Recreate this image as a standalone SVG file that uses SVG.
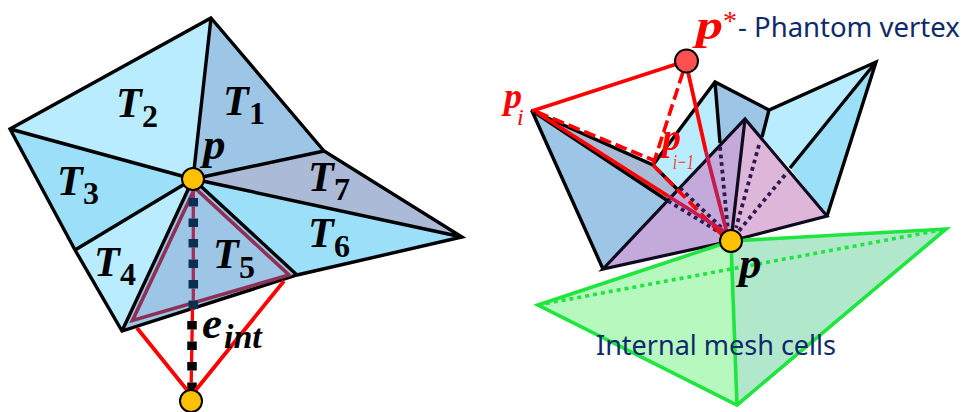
<svg xmlns="http://www.w3.org/2000/svg" width="968" height="412" viewBox="0 0 968 412">
<style>
.k{stroke:#000;stroke-width:3.4;stroke-linejoin:miter;fill:none}
.m{font-family:"Liberation Serif",serif;font-weight:bold;font-style:italic;font-size:45px;fill:#000}
.t{font-size:42px}
.s{font-family:"Liberation Serif",serif;font-weight:bold;font-size:32px;fill:#000}
.n{font-family:"Noto Sans",sans-serif;fill:#0d2a6b;font-size:27.500px}
.r{fill:#f00}
.sub{font-family:"Liberation Serif",serif;font-style:italic}
.rl{stroke:#f00;stroke-width:3.800;fill:none}
.rd{stroke:#f00;stroke-width:3.600;fill:none;stroke-dasharray:12 5}
.d{stroke:#2d1a4e;stroke-width:3.800;fill:none;stroke-dasharray:3.800 3.800}
.g{stroke:#1fe63f;stroke-width:3.600;fill:none}
.v{fill:#ffc000;stroke:#000;stroke-width:2}
</style>
<g id="left-mesh">
<polygon id="t1" points="211,18 324,151 193,179" fill="#9dc6e6"/>
<polygon id="t2" points="211,18 10,129 193,179" fill="#b9ecfe"/>
<polygon id="t3" points="10,129 75,250 193,179" fill="#9bdff9"/>
<polygon id="t4" points="75,250 122,331 193,179" fill="#b9ecfe"/>
<polygon id="t5" points="122,331 297,275 193,179" fill="#9dc6e6"/>
<polygon id="t6" points="297,275 462,237 193,179" fill="#9bdff9"/>
<polygon id="t7" points="324,151 462,237 193,179" fill="#abbad6"/>
<path class="k" d="M211,18L324,151L462,237L297,275L122,331L75,250L10,129ZM211,18L193,179M10,129L193,179M75,250L193,179M122,331L193,179M297,275L193,179M324,151L193,179M462,237L193,179"/>
<polygon id="t5-outline" points="195,188 289,275 132.500,320.500" fill="none" stroke="#8e2f55" stroke-width="3.600"/>
</g>
<g id="connectors">
<path d="M193.300,186V306" stroke="#a32f58" stroke-width="3.300" stroke-dasharray="12 8.500" fill="none"/>
<path d="M192.500,309L191,395" stroke="#f00" stroke-width="3.300" stroke-dasharray="12 8.500" fill="none"/>
<path d="M193.300,198V309" stroke="#0b2f52" stroke-width="9.500" stroke-dasharray="8.500 12" fill="none"/>
<path d="M192,321V391" stroke="#000" stroke-width="9.500" stroke-dasharray="8.500 12" fill="none"/>
<path class="rl" d="M137,328L187,390M284,281L195,391"/>
</g>
<g id="right-mesh">
<polygon points="653,165 715,82 731,241 678,190" fill="#b9ecfe"/>
<polygon points="715,82 769,110 762,137 720,143" fill="#9dc6e6"/>
<polygon points="769,110 876,62 790,168 762,137" fill="#b9ecfe"/>
<polygon points="876,62 827,216 790,168" fill="#9bdff9"/>
<polygon points="532,111 603,269 668,200" fill="#9dc6e6"/>
<polygon points="532,111 653,165 678,190 668,200" fill="#abbad6"/>
<polygon id="purple-a" points="603,269 745,119 731,241" fill="#c4aada"/>
<polygon id="purple-b" points="745,119 827,216 731,241" fill="#deb6da"/>
<path class="k" d="M532,111L603,269M531,110L668,201M532,111L653,165L678,190M653,165L715,82L769,110L876,62L827,216M715,82L720,143M769,110L762,137M876,62L790,168"/>
<path d="M603,269L745,119L827,216L731,241ZM745,119L731,241" fill="none" stroke="#0f0a1e" stroke-width="3.200"/>
<path class="d" d="M668,201L724,235M680,188L725,231M720,147L728,231M759,145L736,228M785,175L738,232"/>
</g>
<g id="internal-cells">
<polygon points="538,305 731,241 737,405" fill="#b6f8be"/>
<polygon points="946,229 731,241 737,405" fill="#b1e8cc"/>
<path class="g" d="M538,305L731,241L946,229L737,405ZM731,241L737,405"/>
<path class="g" d="M538,305L946,229" stroke-dasharray="4 4"/>
</g>
<g id="phantom-connectors">
<path class="rl" d="M532,111L686,61"/>
<path class="rd" d="M683,72L653,165M537,112L653,160"/>
<path d="M653,165L722,235" class="rd" stroke-dasharray="10 5"/>
<path class="rl" d="M688,72L706,152"/>
<path d="M706,152L727,233" stroke="#c41c4e" stroke-width="3.800" fill="none"/>
<path class="rl" d="M536,112L668,196"/>
<path d="M668,196L727,233" stroke="#c41c4e" stroke-width="3.800" fill="none"/>
</g>
<g id="vertex-p-left"><circle class="v" cx="193" cy="179" r="11"/><text class="m" x="203" y="159">p</text></g>
<g id="vertex-bottom"><circle class="v" cx="191" cy="401" r="11"/></g>
<g id="vertex-p-right"><circle class="v" cx="731" cy="241" r="11"/><text class="m" x="739" y="278">p</text></g>
<g id="vertex-phantom"><circle cx="686.500" cy="61" r="11.500" fill="#ff5050" stroke="#000" stroke-width="2"/>
<text class="m r" x="696" y="39" style="font-size:43px" textLength="27" lengthAdjust="spacingAndGlyphs">p</text>
<text x="723" y="30" style="font-family:'Liberation Serif',serif;font-size:28px" fill="#f00">*</text>
<text class="n" x="738" y="37">- Phantom vertex</text></g>
<g id="labels">
<text class="m" style="font-size:42px" x="116" y="117">T</text><text class="s" x="142" y="127">2</text>
<text class="m" style="font-size:42px" x="223" y="115">T</text><text class="s" x="249" y="124">1</text>
<text class="m" style="font-size:42px" x="57" y="195">T</text><text class="s" x="83" y="204">3</text>
<text class="m" style="font-size:42px" x="94" y="276">T</text><text class="s" x="120" y="285">4</text>
<text class="m" style="font-size:42px" x="213" y="268">T</text><text class="s" x="239" y="278">5</text>
<text class="m" style="font-size:42px" x="308" y="247">T</text><text class="s" x="334" y="257">6</text>
<text class="m" style="font-size:42px" x="308" y="191">T</text><text class="s" x="334" y="200">7</text>
<text class="m" x="202" y="338">e</text><text class="m" x="224" y="348" style="font-size:34px">int</text>
<text class="m r" x="504" y="108" style="font-size:36px">p</text>
<text class="sub" x="517" y="125" style="font-size:24px" fill="#f00">i</text>
<text class="m r" x="662" y="150" style="font-size:38px">p</text>
<text class="sub" x="673" y="169" style="font-size:21px" fill="#f33" textLength="21" lengthAdjust="spacingAndGlyphs">i−1</text>
<text class="n" x="596" y="355" style="font-size:27px">Internal mesh cells</text>
</g>
</svg>
